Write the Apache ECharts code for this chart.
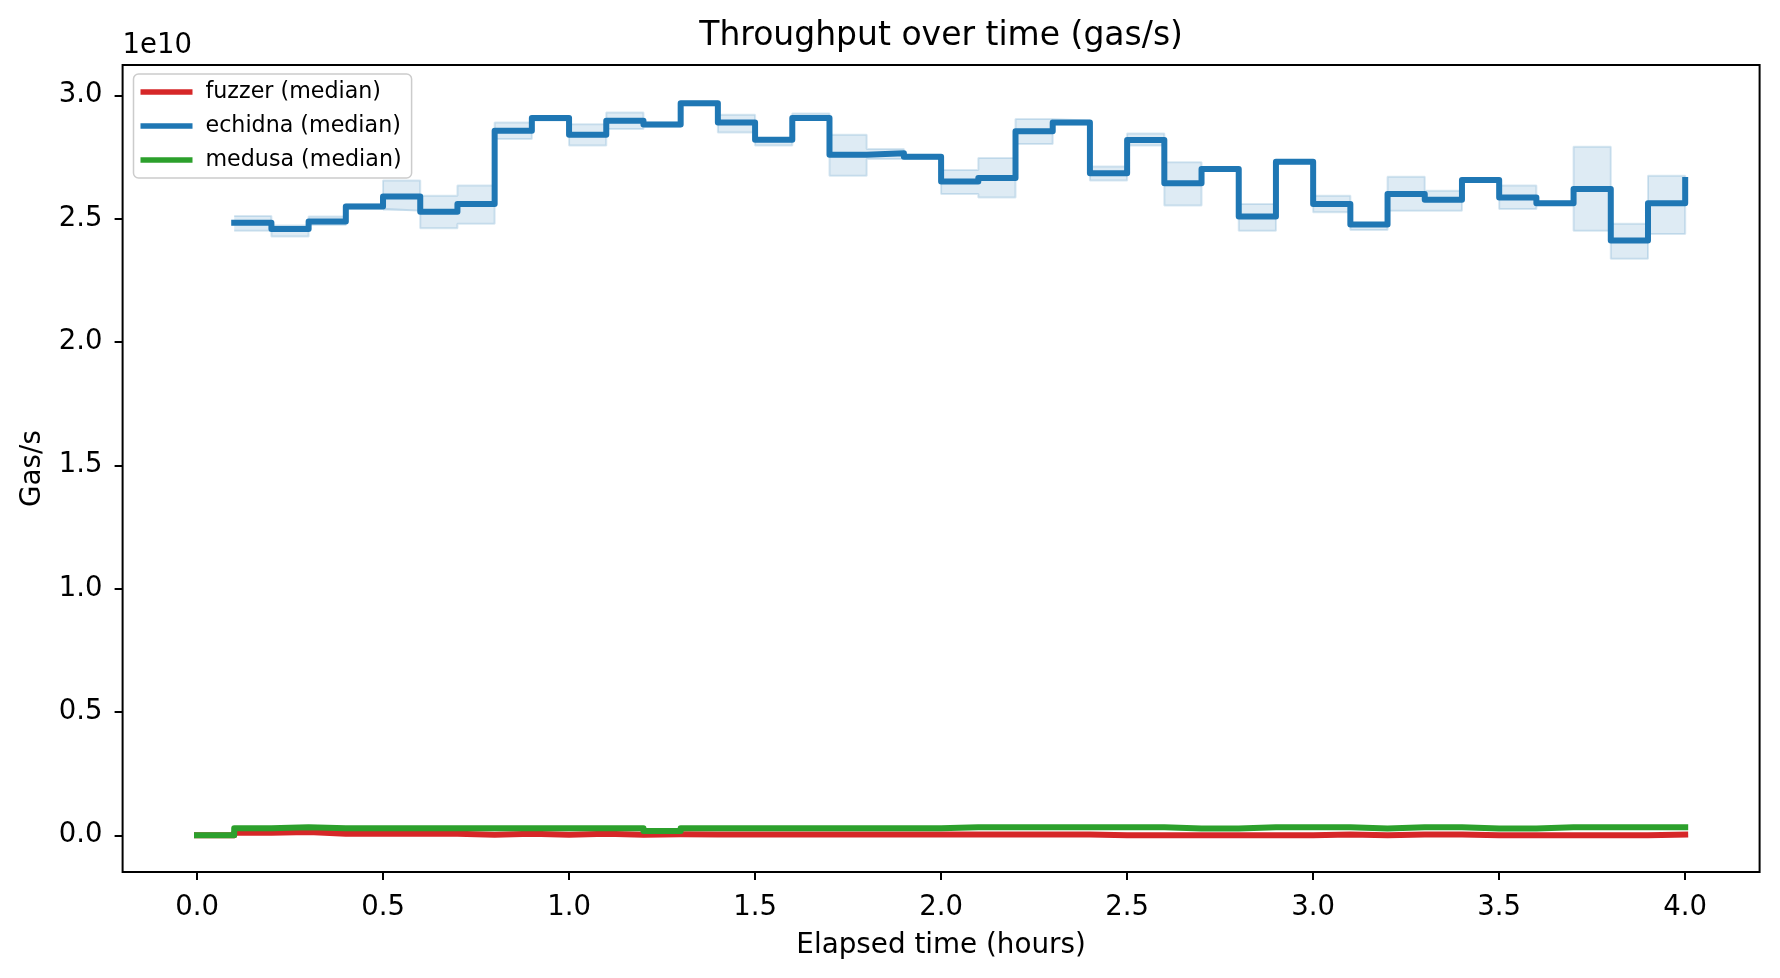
<!DOCTYPE html>
<html>
<head>
<meta charset="utf-8">
<script src="https://cdn.jsdelivr.net/npm/echarts@6/dist/echarts.min.js"></script>
<style>
html,body{margin:0;padding:0;background:#fff;}
#c{width:1780px;height:978px;}
</style>
</head>
<body>
<div id="c"></div>
<script>
// ---- data (values in units of 1e10 gas/s) ----
const times = [0.0,0.1,0.2,0.3,0.4,0.5,0.6,0.7,0.8,0.9,1.0,1.1,1.2,1.3,1.4,1.5,1.6,1.7,1.8,1.9,2.0,
               2.1,2.2,2.3,2.4,2.5,2.6,2.7,2.8,2.9,3.0,3.1,3.2,3.3,3.4,3.5,3.6,3.7,3.8,3.9,4.0];
const echidnaTimes = [0.1,0.2,0.3,0.4,0.5,0.6,0.7,0.8,0.9,1.0,1.1,1.2,1.3,1.4,1.5,1.6,1.7,1.8,1.9,2.0,
                      2.1,2.2,2.3,2.4,2.5,2.6,2.7,2.8,2.9,3.0,3.1,3.2,3.3,3.4,3.5,3.6,3.7,3.8,3.9,4.0];
const fuzzerMedian = [0.000,0.010,0.013,0.006,0.006,0.006,0.006,0.002,0.006,0.002,0.006,0.002,0.004,
                      0.003,0.003,0.003,0.003,0.003,0.003,0.003,0.003,0.003,0.003,0.003,
                      0.000,0.000,0.000,0.000,0.000,0.000,0.003,0.000,0.003,0.003,
                      0.000,0.000,0.000,0.000,0.000,0.003,0.003];
const medusaMedian = [0.000,0.029,0.033,0.029,0.029,0.029,0.029,0.029,0.029,0.029,0.029,0.029,0.018,
                      0.029,0.029,0.029,0.029,0.029,0.029,0.029,0.033,0.033,0.033,0.033,0.033,0.033,
                      0.028,0.028,0.033,0.033,0.033,0.028,0.033,0.033,0.028,0.028,
                      0.033,0.033,0.033,0.033,0.033];
const echidnaMedian = [2.483,2.458,2.488,2.549,2.590,2.528,2.559,2.856,2.908,2.840,
                       2.897,2.881,2.968,2.890,2.820,2.908,2.759,2.765,2.751,2.650,
                       2.665,2.854,2.890,2.684,2.819,2.643,2.701,2.509,2.731,2.559,
                       2.476,2.600,2.576,2.657,2.586,2.562,2.620,2.411,2.562,2.657];
const echidnaLow    = [2.451,2.427,2.474,2.540,2.532,2.461,2.479,2.823,2.898,2.796,
                       2.863,2.872,2.960,2.849,2.796,2.902,2.674,2.742,2.743,2.600,
                       2.586,2.802,2.882,2.654,2.796,2.553,2.694,2.451,2.724,2.526,
                       2.454,2.532,2.532,2.650,2.539,2.555,2.451,2.337,2.438,2.650];
const echidnaHigh   = [2.511,2.472,2.509,2.558,2.654,2.593,2.634,2.890,2.914,2.883,
                       2.930,2.890,2.975,2.921,2.826,2.926,2.840,2.782,2.758,2.697,
                       2.746,2.904,2.897,2.711,2.845,2.728,2.708,2.559,2.738,2.593,
                       2.482,2.670,2.613,2.664,2.634,2.569,2.791,2.479,2.674,2.664];
const xTicks = [0.0,0.5,1.0,1.5,2.0,2.5,3.0,3.5,4.0];
const yTicks = [0.0,0.5,1.0,1.5,2.0,2.5,3.0];
const yOffsetLabel = '1e10';
const titleText = 'Throughput over time (gas/s)';

// ---- build ----
const FONT = '"DejaVu Sans", sans-serif';
const BLUE = '#1f77b4', RED = '#d62728', GREEN = '#2ca02c';
const bandFill = 'rgba(31,119,180,0.15)';
const bandEdge = 'rgba(31,119,180,0.17)';

const pair = (xs, ys) => xs.map((x, i) => [x, ys[i]]);
const bandRects = echidnaTimes.slice(0, -1).map((x, i) => [x, echidnaTimes[i + 1], echidnaLow[i], echidnaHigh[i]]);

const chart = echarts.init(document.getElementById('c'), null, {renderer: 'canvas', width: 1780, height: 978});

const plotLeft = 122.6, plotRight = 1759.6, plotTop = 65, plotBottom = 872;

const lineBase = {
  type: 'line', step: 'end', showSymbol: false, symbol: 'none',
  silent: true, emphasis: {disabled: true}, animation: false
};

const option = {
  animation: false,
  backgroundColor: '#ffffff',
  textStyle: {fontFamily: FONT},
  grid: {
    left: plotLeft, right: 1780 - plotRight, top: plotTop, bottom: 978 - plotBottom,
    show: true, borderColor: '#000', borderWidth: 2, backgroundColor: 'transparent',
    containLabel: false
  },
  legend: {
    show: true, orient: 'vertical', left: 133.5, top: 74,
    data: [
      {name: 'fuzzer (median)', icon: 'rect'},
      {name: 'echidna (median)', icon: 'rect'},
      {name: 'medusa (median)', icon: 'rect'}
    ],
    itemWidth: 52, itemHeight: 5.5, itemGap: 12,
    padding: [7, 10, 7, 7],
    backgroundColor: 'rgba(255,255,255,0.8)',
    borderColor: '#cccccc', borderWidth: 1.5, borderRadius: 5,
    selectedMode: false,
    textStyle: {fontFamily: FONT, fontSize: 22.2, color: '#000', padding: [0, 0, 0, 8]}
  },
  xAxis: {
    type: 'value', min: -0.2, max: 4.2,
    name: 'Elapsed time (hours)', nameLocation: 'middle', nameGap: 59.5,
    nameTextStyle: {fontFamily: FONT, fontSize: 27.8, color: '#000'},
    axisLine: {show: false, onZero: false},
    axisTick: {show: true, inside: false, length: 8, lineStyle: {color: '#000', width: 2}, customValues: xTicks},
    axisLabel: {show: true, customValues: xTicks, formatter: v => v.toFixed(1),
                fontFamily: FONT, fontSize: 27.5, color: '#000', margin: 22},
    splitLine: {show: false}
  },
  yAxis: {
    type: 'value', min: -0.1487, max: 3.1227,
    name: 'Gas/s', nameLocation: 'middle', nameGap: 76,
    nameTextStyle: {fontFamily: FONT, fontSize: 27.8, color: '#000'},
    axisLine: {show: false, onZero: false},
    axisTick: {show: true, inside: false, length: 8, lineStyle: {color: '#000', width: 2}, customValues: yTicks},
    axisLabel: {show: true, customValues: yTicks, formatter: v => v.toFixed(1),
                fontFamily: FONT, fontSize: 27.5, color: '#000', margin: 20},
    splitLine: {show: false}
  },
  graphic: [
    {type: 'text', x: (plotLeft + plotRight) / 2, y: 36.5, silent: true,
     style: {text: titleText, align: 'center', verticalAlign: 'middle',
             fontFamily: FONT, fontSize: 33, fill: '#000'}},
    {type: 'text', x: plotLeft, y: 46, silent: true,
     style: {text: yOffsetLabel, align: 'left', verticalAlign: 'middle',
             fontFamily: FONT, fontSize: 27.5, fill: '#000'}}
  ],
  series: [
    {
      name: 'echidna band', type: 'custom', silent: true, clip: true,
      data: bandRects,
      encode: {x: [0, 1], y: [2, 3]},
      renderItem: function (params, api) {
        const p0 = api.coord([api.value(0), api.value(3)]);
        const p1 = api.coord([api.value(1), api.value(2)]);
        return {
          type: 'rect',
          shape: {x: p0[0], y: p0[1], width: p1[0] - p0[0], height: p1[1] - p0[1]},
          style: {fill: bandFill, stroke: null}
        };
      }
    },
    Object.assign({}, lineBase, {
      name: 'echidna low', data: pair(echidnaTimes, echidnaLow),
      lineStyle: {color: bandEdge, width: 2}
    }),
    Object.assign({}, lineBase, {
      name: 'echidna high', data: pair(echidnaTimes, echidnaHigh),
      lineStyle: {color: bandEdge, width: 2}
    }),
    Object.assign({}, lineBase, {
      name: 'fuzzer (median)', data: pair(times, fuzzerMedian),
      itemStyle: {color: RED},
      lineStyle: {color: RED, width: 6, join: 'round', cap: 'square'}
    }),
    Object.assign({}, lineBase, {
      name: 'echidna (median)', data: pair(echidnaTimes, echidnaMedian),
      itemStyle: {color: BLUE},
      lineStyle: {color: BLUE, width: 6, join: 'round', cap: 'square'}
    }),
    Object.assign({}, lineBase, {
      name: 'medusa (median)', data: pair(times, medusaMedian),
      itemStyle: {color: GREEN},
      lineStyle: {color: GREEN, width: 6, join: 'round', cap: 'square'}
    })
  ]
};

chart.setOption(option);
</script>
</body>
</html>
